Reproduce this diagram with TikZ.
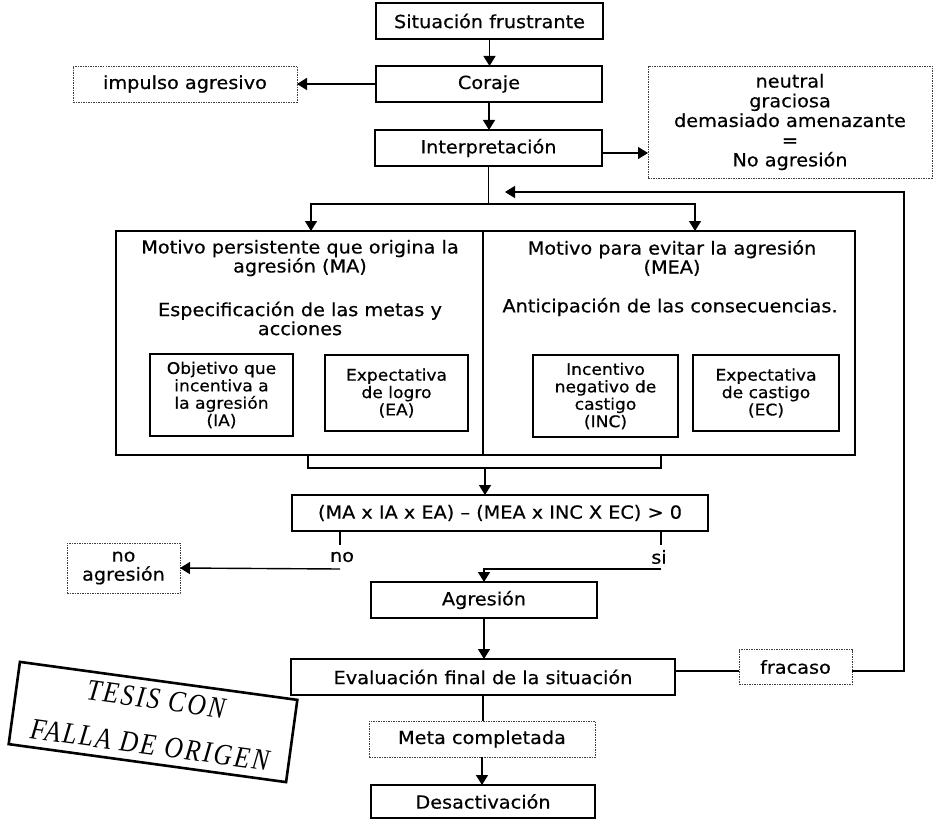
\documentclass[tikz,border=0pt]{standalone}
\usepackage{fontspec}
\setmainfont{DejaVu Sans}[FakeStretch=1.07,FakeBold=0.5]
\newfontfamily\stampfont{Liberation Serif}[FakeStretch=0.85,LetterSpace=8]
\usetikzlibrary{arrows.meta}
\begin{document}
\begin{tikzpicture}[x=1pt,y=-1pt,
  >={Triangle[length=10pt,width=12pt]},
  every node/.style={font=\fontsize{18}{19}\selectfont, inner sep=0pt, outer sep=0pt},
  box/.style={draw, line width=1.4pt, align=center},
  dbox/.style={draw=black!75, line width=0.7pt, dash pattern=on 1.5pt off 1pt, align=center},
  panel/.style={draw, line width=1.4pt},
  ln/.style={line width=1.4pt},
  arr/.style={line width=1.4pt, ->},
  small/.style={font=\fontsize{16}{17.4}\selectfont}]

\useasboundingbox (0,0) rectangle (934,824);

% top chain
\node[box, minimum width=227pt, minimum height=36pt] (sit) at (489.5,21) {Situación frustrante};
\node[box, minimum width=226pt, minimum height=36pt] (cor) at (489,84) {Coraje};
\node[box, minimum width=227pt, minimum height=36pt] (int) at (488.5,148) {Interpretación};
\node[dbox, minimum width=224pt, minimum height=36pt] (imp) at (185,84) {impulso agresivo};
\node[dbox, minimum width=284pt, minimum height=112pt, font=\fontsize{18}{19.7}\selectfont] (neu) at (790,122)
  {neutral\\graciosa\\demasiado amenazante\\=\\No agresión};

% panels
\node[panel, minimum width=367pt, minimum height=224pt] (pl) at (299.5,343) {};
\node[panel, minimum width=372pt, minimum height=224pt] (pr) at (669,343) {};
\node[align=center] (plt) at (300,258) {Motivo persistente que origina la\\agresión (MA)};
\node[align=center] (pls) at (300,318.5) {Especificación de las metas y\\acciones};
\node[align=center] (prt) at (672,258) {Motivo para evitar la agresión\\(MEA)};
\node (prs) at (670,307) {Anticipación de las consecuencias.};

\node[box, small, minimum width=143pt, minimum height=82pt] (ia) at (221.5,395) {Objetivo que\\incentiva a\\la agresión\\(IA)};
\node[box, small, minimum width=143pt, minimum height=76pt] (ea) at (396.5,393) {Expectativa\\de logro\\(EA)};
\node[box, small, minimum width=145pt, minimum height=82pt] (inc) at (605.5,396) {Incentivo\\negativo de\\castigo\\(INC)};
\node[box, small, minimum width=146pt, minimum height=76pt] (ec) at (766,393) {Expectativa\\de castigo\\(EC)};

% lower part
\node[box, minimum width=416pt, minimum height=36pt] (form) at (500,513) {(MA x IA x EA) – (MEA x INC X EC) > 0};
\node[dbox, minimum width=113pt, minimum height=50pt] (noag) at (123.5,568) {no\\agresión};
\node (no) at (342,557) {no};
\node (si) at (659,557) {si};
\node[box, minimum width=226pt, minimum height=36pt] (agr) at (484,600) {Agresión};
\node[box, minimum width=384pt, minimum height=36pt] (eval) at (483,677) {Evaluación final de la situación};
\node[dbox, minimum width=113pt, minimum height=35pt] (fra) at (795.5,667) {fracaso};
\node[dbox, minimum width=226pt, minimum height=36pt] (meta) at (482,739) {Meta completada};
\node[box, minimum width=224pt, minimum height=33pt] (des) at (483,801.5) {Desactivación};

% stamp
\node[draw, line width=2.6pt, rotate=-7.8, minimum width=280pt, minimum height=83pt, align=center,
  font=\stampfont\itshape\fontsize{30}{46}\selectfont] (stamp) at (153,722) {TESIS CON\\FALLA DE ORIGEN};

% coordinates
\coordinate (sL) at (311,204);
\coordinate (sR) at (695,204);
\coordinate (bL) at (308,468);
\coordinate (bR) at (661,468);
\coordinate (bM) at (485,468);
\coordinate (noTop) at (340,545);
\coordinate (noL) at (340,569);
\coordinate (siTop) at (661,545);
\coordinate (siL) at (661,569);
\coordinate (siC) at (484,569);
\coordinate (rc) at (904,192);
\coordinate (rt) at (505,192);

% connectors
\draw[arr] (sit.south) -- (sit.south |- cor.north);
\draw[arr] (cor.west) -- (imp.east);
\draw[arr] (cor.south) -- (cor.south |- int.north);
\draw[arr] ([yshift=-5pt]int.east) -- ([yshift=-5pt]int.east -| neu.west);
\draw[ln] (int.south) -- (int.south |- sL);
\draw[ln, <->] (sL |- pl.north) -- (sL) -- (sR) -- (sR |- pr.north);
\draw[ln] (bL |- pl.south) -- (bL) -- (bR) -- (bR |- pr.south);
\draw[arr] (bM) -- (bM |- form.north);
\draw[ln] (form.south -| noTop) -- (noTop);
\draw[arr] (noL) -- (noag.east);
\draw[ln] (form.south -| siTop) -- (siTop);
\draw[arr] (siL) -- (siC) -- (agr.north);
\draw[arr] (agr.south) -- (agr.south |- eval.north);
\draw[ln] ([yshift=6pt]eval.east) -- ([yshift=6pt]eval.east -| fra.west);
\draw[arr] ([yshift=6pt]eval.east -| fra.east) -| (rc) -- (rt);
\draw[ln] (eval.south) -- (eval.south |- meta.north);
\draw[arr] (meta.south) -- (meta.south |- des.north);
\end{tikzpicture}
\end{document}
